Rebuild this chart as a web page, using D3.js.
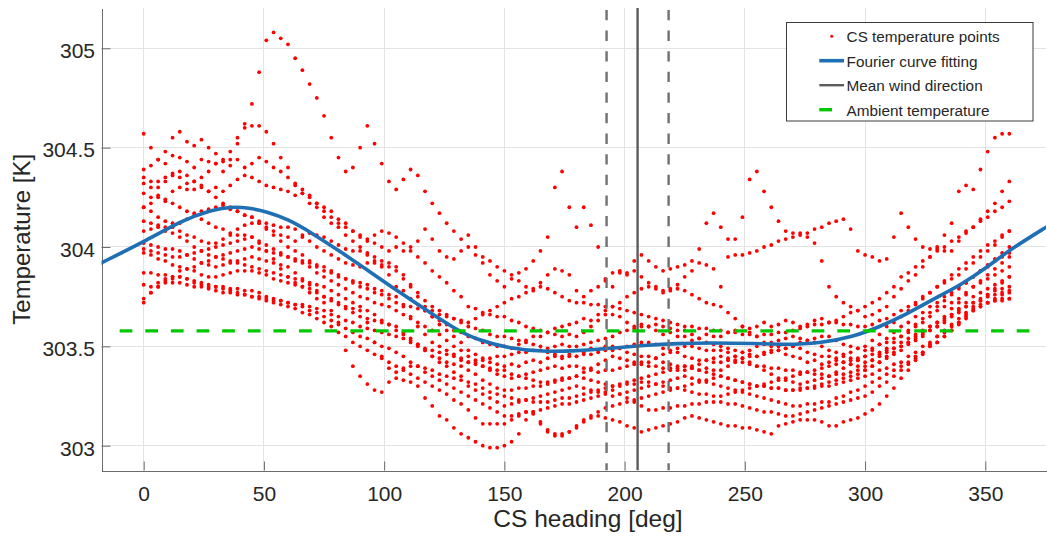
<!DOCTYPE html>
<html><head><meta charset="utf-8">
<script src="https://cdn.jsdelivr.net/npm/d3@7"></script>
<style>
html,body{margin:0;padding:0;background:#fff;}
svg{display:block;font-family:"Liberation Sans",Arial,Helvetica,sans-serif;}
</style></head><body>
<svg id="chart" width="1047" height="536"></svg>
<script>
// ---------- DATA ----------
const headings = [0,3,6,9,12,15,18,21,24,27,30,33,36,39,42,45,48,51,54,57,60,63,66,69,72,75,78,81,84,87,90,93,96,99,102,105,108,111,114,117,120,123,126,129,132,135,138,141,144,147,150,153,156,159,162,165,168,171,174,177,180,183,186,189,192,195,198,201,204,207,210,213,216,219,222,225,228,231,234,237,240,243,246,249,252,255,258,261,264,267,270,273,276,279,282,285,288,291,294,297,300,303,306,309,312,315,318,321,324,327,330,333,336,339,342,345,348,351,354,357,360];

const lap01 = [304.20,304.22,304.25,304.24,304.28,304.30,304.29,304.33,304.35,304.38,
304.42,304.43,304.44,304.52,304.62,304.72,304.88,305.04,305.08,305.05,
305.02,304.95,304.89,304.82,304.75,304.66,304.55,304.45,304.38,304.40,
304.50,304.61,304.52,304.42,304.33,304.29,304.34,304.39,304.36,304.28,
304.22,304.17,304.12,304.08,304.04,304.00,303.96,303.92,303.86,303.83,
303.80,303.84,303.87,303.89,303.93,303.98,304.05,304.30,304.38,304.20,
304.10,304.20,304.11,304.00,303.83,303.80,303.87,303.86,303.88,303.85,
303.82,303.80,303.78,303.79,303.81,303.85,303.88,303.92,303.91,303.89,
303.80,303.95,304.04,304.15,304.34,304.38,304.28,304.20,304.13,304.08,
304.07,304.07,304.05,304.02,303.93,303.80,303.75,303.72,303.70,303.68,
303.65,303.66,303.68,303.70,303.75,303.79,303.83,303.86,303.90,303.95,
304.00,304.06,304.12,304.28,304.31,304.29,304.39,304.48,304.55,304.57,
304.57];
const lap02 = [304.57,304.50,304.44,304.48,304.55,304.58,304.53,304.51,304.54,304.50,
304.47,304.44,304.48,304.55,304.60,304.61,304.61,304.58,304.52,304.45,
304.40,304.32,304.27,304.22,304.20,304.18,304.15,304.12,304.10,304.08,
304.06,304.04,304.02,304.00,303.98,304.00,303.98,304.00,304.03,304.09,
304.04,303.98,303.95,303.94,303.98,304.06,304.00,303.95,303.93,303.90,
303.88,303.86,303.83,303.80,303.79,303.82,303.86,303.89,303.88,303.86,
303.78,303.75,303.78,303.80,303.84,303.87,303.88,303.87,303.93,303.96,
303.93,303.90,303.88,303.89,303.90,303.91,303.93,303.99,304.12,304.17,
304.10,304.04,303.96,303.96,303.97,303.98,304.00,304.01,304.03,304.04,
304.05,304.06,304.07,304.09,304.10,304.12,304.13,304.14,304.09,303.98,
303.96,303.95,303.93,303.94,304.05,304.17,304.10,304.04,304.00,303.99,
303.99,303.98,303.98,304.03,304.07,304.10,304.14,304.18,304.22,304.28,
304.33];
const lap03 = [304.39,304.41,304.44,304.42,304.46,304.45,304.43,304.40,304.44,304.43,
304.42,304.38,304.41,304.44,304.40,304.42,304.45,304.43,304.40,304.38,
304.35,304.31,304.29,304.26,304.22,304.15,304.12,304.10,304.06,304.03,
304.00,303.97,303.92,303.90,303.86,303.80,303.78,303.74,303.71,303.68,
303.65,303.63,303.61,303.58,303.57,303.55,303.54,303.52,303.51,303.50,
303.50,303.49,303.51,303.53,303.55,303.55,303.57,303.59,303.60,303.61,
303.62,303.64,303.63,303.66,303.68,303.66,303.65,303.62,303.60,303.61,
303.60,303.58,303.56,303.57,303.55,303.55,303.53,303.54,303.56,303.55,
303.55,303.57,303.58,303.60,303.59,303.60,303.62,303.60,303.61,303.63,
303.62,303.60,303.61,303.63,303.64,303.62,303.63,303.65,303.67,303.68,
303.70,303.72,303.74,303.77,303.80,303.85,303.87,303.90,303.93,303.95,
303.98,304.00,304.03,304.05,304.08,304.10,304.13,304.15,304.18,304.20,
304.23];
const lap04 = [304.35,304.33,304.30,304.33,304.36,304.35,304.32,304.29,304.31,304.28,
304.30,304.28,304.31,304.34,304.36,304.35,304.33,304.31,304.30,304.29,
304.28,304.26,304.27,304.25,304.22,304.20,304.18,304.14,304.12,304.08,
304.05,304.03,304.06,304.08,304.07,304.05,304.02,303.98,303.95,303.92,
303.88,303.85,303.82,303.78,303.75,303.70,303.69,303.67,303.66,303.65,
303.65,303.63,303.62,303.60,303.59,303.58,303.57,303.56,303.55,303.56,
303.55,303.57,303.60,303.63,303.66,303.70,303.72,303.75,303.77,303.79,
303.80,303.79,303.77,303.78,303.79,303.78,303.76,303.74,303.72,303.71,
303.70,303.67,303.64,303.60,303.57,303.55,303.52,303.50,303.48,303.46,
303.45,303.44,303.42,303.43,303.41,303.42,303.44,303.46,303.47,303.49,
303.50,303.53,303.56,303.60,303.62,303.65,303.68,303.71,303.74,303.77,
303.80,303.82,303.84,303.86,303.89,303.92,303.95,303.98,304.01,304.05,
304.08];
const lap05 = [304.32,304.30,304.33,304.35,304.37,304.38,304.36,304.33,304.30,304.28,
304.25,304.22,304.20,304.18,304.16,304.15,304.12,304.10,304.08,304.06,
304.05,304.03,304.05,304.07,304.06,304.05,304.03,304.01,303.99,303.98,
303.98,303.96,303.95,303.93,303.92,303.90,303.86,303.81,303.75,303.70,
303.65,303.61,303.58,303.55,303.52,303.48,303.46,303.44,303.42,303.41,
303.40,303.41,303.40,303.42,303.43,303.42,303.44,303.45,303.44,303.46,
303.45,303.47,303.49,303.48,303.50,303.50,303.49,303.47,303.46,303.45,
303.45,303.44,303.42,303.41,303.40,303.40,303.39,303.38,303.39,303.38,
303.38,303.40,303.42,303.44,303.45,303.45,303.47,303.48,303.50,303.49,
303.50,303.49,303.47,303.46,303.45,303.45,303.43,303.42,303.41,303.40,
303.40,303.43,303.46,303.49,303.52,303.55,303.58,303.61,303.64,303.67,
303.70,303.73,303.76,303.79,303.82,303.85,303.88,303.91,303.94,303.97,
304.00];
const lap06 = [304.27,304.25,304.26,304.23,304.22,304.20,304.18,304.17,304.14,304.12,
304.10,304.09,304.07,304.06,304.06,304.05,304.03,304.01,303.99,303.97,
303.95,303.93,303.92,303.90,303.87,303.85,303.83,303.81,303.79,303.77,
303.75,303.74,303.72,303.71,303.70,303.68,303.66,303.64,303.62,303.60,
303.58,303.56,303.53,303.50,303.48,303.45,303.42,303.40,303.38,303.36,
303.35,303.34,303.35,303.36,303.37,303.38,303.39,303.40,303.39,303.40,
303.40,303.39,303.38,303.37,303.38,303.38,303.39,303.40,303.41,303.42,
303.42,303.44,303.46,303.47,303.49,303.50,303.50,303.49,303.48,303.48,
303.48,303.47,303.45,303.44,303.42,303.40,303.38,303.36,303.34,303.33,
303.32,303.31,303.32,303.33,303.34,303.35,303.36,303.36,303.37,303.38,
303.38,303.40,303.42,303.45,303.47,303.50,303.52,303.55,303.57,303.60,
303.62,303.65,303.69,303.72,303.76,303.80,303.83,303.86,303.89,303.92,
303.95];
const lap07 = [304.20,304.18,304.15,304.13,304.10,304.08,304.06,304.05,304.03,304.02,
304.02,304.04,304.06,304.09,304.11,304.12,304.13,304.12,304.11,304.10,
304.10,304.09,304.06,304.03,304.00,303.98,303.96,303.94,303.92,303.91,
303.90,303.92,303.93,303.91,303.90,303.88,303.84,303.80,303.77,303.73,
303.70,303.68,303.66,303.64,303.62,303.60,303.59,303.58,303.56,303.55,
303.55,303.54,303.53,303.52,303.51,303.50,303.49,303.50,303.51,303.50,
303.50,303.51,303.52,303.53,303.54,303.55,303.57,303.58,303.59,303.60,
303.60,303.61,303.60,303.59,303.58,303.58,303.56,303.54,303.52,303.51,
303.50,303.49,303.48,303.47,303.46,303.45,303.46,303.47,303.48,303.49,
303.50,303.52,303.53,303.54,303.55,303.55,303.53,303.51,303.50,303.49,
303.48,303.49,303.51,303.52,303.54,303.55,303.57,303.60,303.62,303.65,
303.68,303.70,303.72,303.74,303.77,303.80,303.82,303.84,303.86,303.88,
303.90];
const lap08 = [304.13,304.12,304.10,304.08,304.07,304.05,304.03,304.00,303.98,303.96,
303.95,303.94,303.93,303.92,303.91,303.90,303.89,303.88,303.87,303.86,
303.85,303.84,303.83,303.82,303.81,303.80,303.78,303.76,303.74,303.72,
303.70,303.68,303.66,303.63,303.61,303.58,303.56,303.53,303.50,303.48,
303.45,303.44,303.42,303.41,303.40,303.38,303.36,303.33,303.31,303.29,
303.28,303.28,303.29,303.29,303.30,303.30,303.31,303.32,303.33,303.34,
303.35,303.34,303.33,303.32,303.31,303.30,303.31,303.32,303.33,303.34,
303.35,303.36,303.37,303.38,303.39,303.40,303.39,303.38,303.37,303.36,
303.35,303.34,303.33,303.32,303.31,303.30,303.31,303.32,303.33,303.34,
303.35,303.36,303.37,303.38,303.39,303.40,303.41,303.42,303.43,303.44,
303.45,303.46,303.47,303.48,303.49,303.50,303.52,303.54,303.56,303.58,
303.60,303.63,303.66,303.69,303.72,303.75,303.77,303.79,303.81,303.83,
303.85];
const lap09 = [304.08,304.09,304.11,304.10,304.12,304.12,304.14,304.16,304.18,304.19,
304.20,304.21,304.19,304.18,304.16,304.15,304.12,304.09,304.06,304.03,
304.00,303.98,303.96,303.93,303.90,303.88,303.87,303.85,303.84,303.83,
303.82,303.81,303.79,303.78,303.76,303.75,303.70,303.65,303.60,303.56,
303.52,303.50,303.48,303.46,303.44,303.42,303.43,303.43,303.44,303.45,
303.45,303.46,303.47,303.47,303.48,303.48,303.47,303.46,303.45,303.45,
303.45,303.46,303.46,303.47,303.48,303.48,303.49,303.50,303.51,303.52,
303.52,303.51,303.49,303.48,303.47,303.45,303.44,303.43,303.43,303.42,
303.42,303.43,303.45,303.47,303.48,303.50,303.51,303.52,303.53,303.54,
303.55,303.54,303.53,303.52,303.50,303.48,303.47,303.45,303.44,303.43,
303.42,303.43,303.45,303.47,303.49,303.52,303.54,303.56,303.58,303.60,
303.62,303.64,303.66,303.68,303.70,303.72,303.74,303.76,303.78,303.79,
303.80];
const lap10 = [304.02,304.01,304.00,303.99,303.99,303.98,303.96,303.94,303.92,303.91,
303.90,303.91,303.92,303.93,303.94,303.95,303.94,303.93,303.92,303.91,
303.90,303.87,303.84,303.81,303.78,303.75,303.73,303.71,303.69,303.67,
303.65,303.64,303.63,303.62,303.61,303.60,303.57,303.54,303.51,303.48,
303.45,303.42,303.40,303.37,303.35,303.32,303.31,303.29,303.27,303.26,
303.25,303.24,303.23,303.23,303.22,303.22,303.22,303.23,303.24,303.24,
303.25,303.26,303.27,303.28,303.29,303.30,303.30,303.31,303.31,303.32,
303.32,303.31,303.30,303.29,303.29,303.28,303.27,303.26,303.26,303.25,
303.25,303.26,303.27,303.28,303.29,303.30,303.30,303.29,303.29,303.28,
303.28,303.28,303.29,303.29,303.30,303.30,303.31,303.32,303.33,303.34,
303.35,303.36,303.38,303.39,303.41,303.42,303.45,303.47,303.50,303.52,
303.55,303.57,303.60,303.62,303.65,303.68,303.70,303.72,303.74,303.76,
303.77];
const lap11 = [303.99,303.98,303.97,303.96,303.95,303.95,303.96,303.97,303.98,303.99,
304.00,304.01,304.02,304.03,304.04,304.05,304.02,303.98,303.94,303.89,
303.85,303.82,303.80,303.77,303.74,303.72,303.68,303.62,303.48,303.40,
303.35,303.31,303.28,303.27,303.32,303.37,303.39,303.40,303.40,303.39,
303.38,303.36,303.35,303.34,303.33,303.30,303.28,303.26,303.24,303.22,
303.20,303.21,303.22,303.23,303.24,303.25,303.26,303.27,303.28,303.29,
303.30,303.29,303.28,303.27,303.26,303.25,303.26,303.27,303.28,303.29,
303.30,303.31,303.32,303.33,303.34,303.35,303.34,303.33,303.32,303.31,
303.30,303.29,303.28,303.27,303.26,303.25,303.24,303.23,303.22,303.21,
303.20,303.20,303.21,303.21,303.22,303.22,303.24,303.25,303.27,303.28,
303.30,303.32,303.34,303.36,303.38,303.40,303.42,303.45,303.47,303.50,
303.52,303.55,303.58,303.61,303.64,303.68,303.70,303.72,303.73,303.74,
303.74];
const lap12 = [303.97,303.96,303.94,303.93,303.91,303.90,303.89,303.88,303.86,303.85,
303.85,303.86,303.87,303.88,303.88,303.88,303.87,303.86,303.84,303.83,
303.82,303.81,303.80,303.79,303.77,303.75,303.74,303.72,303.70,303.69,
303.68,303.62,303.52,303.45,303.39,303.34,303.33,303.32,303.30,303.24,
303.20,303.15,303.13,303.09,303.06,303.04,303.02,303.00,302.99,302.99,
303.00,303.02,303.06,303.13,303.16,303.11,303.07,303.06,303.06,303.07,
303.09,303.13,303.15,303.17,303.19,303.20,303.21,303.22,303.23,303.24,
303.25,303.26,303.27,303.28,303.29,303.30,303.31,303.32,303.33,303.34,
303.35,303.34,303.33,303.32,303.31,303.30,303.30,303.29,303.29,303.28,
303.28,303.29,303.29,303.30,303.31,303.32,303.33,303.34,303.35,303.36,
303.38,303.40,303.42,303.44,303.46,303.48,303.51,303.53,303.55,303.58,
303.60,303.62,303.65,303.67,303.70,303.72,303.73,303.75,303.76,303.77,
303.78];
const lap13 = [303.87,303.87,303.86,303.86,303.85,303.85,303.84,303.82,303.80,303.79,
303.78,303.77,303.77,303.76,303.76,303.75,303.74,303.73,303.72,303.71,
303.70,303.69,303.67,303.66,303.64,303.62,303.60,303.57,303.55,303.52,
303.50,303.48,303.46,303.44,303.42,303.40,303.38,303.36,303.34,303.32,
303.30,303.28,303.26,303.23,303.21,303.18,303.14,303.11,303.11,303.11,
303.11,303.13,303.15,303.17,303.17,303.12,303.08,303.05,303.05,303.07,
303.10,303.12,303.14,303.15,303.14,303.13,303.12,303.10,303.09,303.07,
303.08,303.09,303.10,303.11,303.12,303.14,303.15,303.14,303.13,303.12,
303.11,303.10,303.10,303.09,303.09,303.08,303.07,303.06,303.10,303.11,
303.12,303.13,303.13,303.13,303.12,303.10,303.10,303.12,303.13,303.14,
303.16,303.18,303.21,303.25,303.29,303.34,303.38,303.43,303.46,303.50,
303.52,303.55,303.58,303.62,303.66,303.69,303.71,303.72,303.73,303.73,
303.74];
const lap14 = [303.81,303.80,303.82,303.83,303.82,303.82,303.81,303.80,303.81,303.80,
303.80,303.80,303.79,303.79,303.78,303.78,303.77,303.75,303.74,303.73,
303.72,303.71,303.70,303.68,303.67,303.65,303.63,303.61,303.59,303.57,
303.55,303.54,303.52,303.50,303.49,303.47,303.45,303.42,303.40,303.37,
303.35,303.33,303.31,303.29,303.27,303.25,303.23,303.21,303.19,303.17,
303.15,303.15,303.16,303.17,303.17,303.18,303.19,303.20,303.21,303.21,
303.22,303.23,303.24,303.25,303.27,303.28,303.26,303.24,303.22,303.20,
303.18,303.18,303.19,303.19,303.20,303.20,303.21,303.21,303.22,303.22,
303.22,303.21,303.21,303.20,303.19,303.18,303.17,303.17,303.16,303.15,
303.15,303.16,303.17,303.18,303.19,303.20,303.21,303.22,303.23,303.24,
303.25,303.27,303.30,303.32,303.35,303.38,303.41,303.44,303.47,303.51,
303.55,303.58,303.61,303.64,303.67,303.70,303.73,303.76,303.79,303.82,
303.85];
const lap15 = [303.74,303.77,303.80,303.82,303.84,303.85,303.84,303.83,303.82,303.81,
303.80,303.79,303.78,303.77,303.76,303.75,303.75,303.74,303.73,303.73,
303.72,303.71,303.71,303.70,303.69,303.68,303.66,303.65,303.63,303.62,
303.60,303.59,303.58,303.57,303.56,303.55,303.54,303.52,303.51,303.49,
303.48,303.47,303.46,303.45,303.43,303.42,303.41,303.40,303.39,303.38,
303.38,303.36,303.35,303.34,303.33,303.32,303.32,303.33,303.34,303.34,
303.35,303.37,303.39,303.41,303.43,303.45,303.44,303.43,303.42,303.41,
303.40,303.40,303.39,303.39,303.38,303.38,303.40,303.41,303.43,303.44,
303.45,303.44,303.43,303.42,303.41,303.40,303.40,303.39,303.39,303.38,
303.38,303.37,303.37,303.36,303.36,303.35,303.37,303.39,303.41,303.43,
303.45,303.48,303.51,303.54,303.57,303.60,303.62,303.65,303.67,303.70,
303.72,303.75,303.77,303.80,303.82,303.85,303.88,303.90,303.93,303.95,
303.97];
const lap16 = [303.72,303.77,303.80,303.84,303.85,303.88,303.89,303.90,303.92,303.93,
303.95,303.96,303.97,303.98,303.99,304.00,303.99,303.98,303.97,303.96,
303.95,303.94,303.93,303.92,303.91,303.90,303.88,303.86,303.84,303.82,
303.80,303.79,303.77,303.76,303.74,303.72,303.71,303.70,303.69,303.68,
303.68,303.66,303.65,303.64,303.63,303.62,303.64,303.66,303.68,303.70,
303.72,303.74,303.75,303.77,303.78,303.80,303.79,303.77,303.75,303.73,
303.72,303.72,303.71,303.71,303.70,303.70,303.69,303.68,303.67,303.66,
303.65,303.64,303.63,303.62,303.61,303.60,303.60,303.59,303.59,303.58,
303.58,303.57,303.57,303.56,303.56,303.55,303.56,303.56,303.57,303.57,
303.58,303.59,303.60,303.61,303.61,303.62,303.62,303.61,303.61,303.60,
303.60,303.61,303.63,303.64,303.66,303.68,303.70,303.72,303.75,303.77,
303.80,303.83,303.86,303.89,303.92,303.95,303.98,304.01,304.03,304.06,
304.08];

const fitHeading = [-18,0,16,28,36,44,51,60,70,82,93,104,111,129,138,152,166,180,194,208,222,236,254,267,281,295,306,317,328,340,351,360,376];
const fitTemp = [303.918,304.025,304.135,304.186,304.203,304.197,304.178,304.14,304.07,303.975,303.884,303.792,303.735,303.59,303.535,303.49,303.473,303.477,303.49,303.505,303.515,303.518,303.515,303.508,303.515,303.548,303.598,303.66,303.735,303.81,303.9,303.985,304.105];

const ambientTemp = 303.578;
const ambientSpan = [-10, 370];
const windMean = 205.4;
const windBounds = [192.5, 218.3];

const xTicks = [0,50,100,150,200,250,300,350];
const yTicks = [303,303.5,304,304.5,305];
const yTickLabels = ["303","303.5","304","304.5","305"];
const legendLabels = ["CS temperature points","Fourier curve fitting","Mean wind direction","Ambient temperature"];
const xTitle = "CS heading [deg]";
const yTitle = "Temperature [K]";

// ---------- DRAW ----------
const laps = [lap01,lap02,lap03,lap04,lap05,lap06,lap07,lap08,lap09,lap10,lap11,lap12,lap13,lap14,lap15,lap16];
const points = [];
laps.forEach(lap => lap.forEach((t,i) => points.push([headings[i], t])));

const L = 101.5, R = 1046, T = 8, B = 470.5;
const x = d3.scaleLinear().domain([-17.55, 375.25]).range([L, R]);
const y = d3.scaleLinear().domain([302.8752, 305.2028]).range([B, T]);

const svg = d3.select("#chart");
svg.append("rect").attr("width",1047).attr("height",536).attr("fill","#fff");

svg.append("defs").append("clipPath").attr("id","plotclip")
  .append("rect").attr("x",L).attr("y",T).attr("width",R-L).attr("height",B-T);

// grid
const grid = svg.append("g").attr("stroke","#e3e3e3").attr("stroke-width",1).attr("shape-rendering","crispEdges");
grid.selectAll(".gx").data(xTicks).join("line")
  .attr("x1",d=>x(d)).attr("x2",d=>x(d)).attr("y1",T).attr("y2",B);
grid.selectAll(".gy").data(yTicks).join("line")
  .attr("x1",L).attr("x2",R).attr("y1",d=>y(d)).attr("y2",d=>y(d));

// axes
const axisColor = "#6b6b6b";
const xAxis = d3.axisBottom(x).tickValues(xTicks).tickFormat(d3.format("d"))
  .tickSizeInner(-9).tickSizeOuter(0).tickPadding(15.2);
const gx = svg.append("g").attr("transform",`translate(0,${B})`).call(xAxis);
gx.select(".domain").attr("stroke",axisColor).attr("shape-rendering","crispEdges");
gx.selectAll(".tick line").attr("stroke",axisColor);
gx.selectAll(".tick text").attr("fill","#262626").attr("font-size",21)
  .attr("font-family",'"Liberation Sans",Arial,sans-serif');

const yAxis = d3.axisLeft(y).tickValues(yTicks).tickFormat((d,i)=>yTickLabels[i])
  .tickSizeInner(-9).tickSizeOuter(0).tickPadding(6.5);
const gy = svg.append("g").attr("transform",`translate(${L},0)`).call(yAxis);
gy.select(".domain").attr("stroke",axisColor).attr("shape-rendering","crispEdges");
gy.selectAll(".tick line").attr("stroke",axisColor);
gy.selectAll(".tick text").attr("fill","#262626").attr("font-size",21).attr("dy","9.3")
  .attr("font-family",'"Liberation Sans",Arial,sans-serif');

const plot = svg.append("g").attr("clip-path","url(#plotclip)");

// scatter
plot.append("g").attr("fill","#ff0000").selectAll("circle").data(points).join("circle")
  .attr("cx",d=>x(d[0])).attr("cy",d=>y(d[1])).attr("r",1.9);

// Fourier fit
const fitPts = fitHeading.map((h,i)=>[h, fitTemp[i]]);
plot.append("path").datum(fitPts)
  .attr("d", d3.line().x(d=>x(d[0])).y(d=>y(d[1])).curve(d3.curveBasis))
  .attr("fill","none").attr("stroke","#1f6fb4").attr("stroke-width",3.6);

// wind direction
plot.append("line").attr("x1",x(windMean)).attr("x2",x(windMean)).attr("y1",T).attr("y2",B)
  .attr("stroke","#5c5c5c").attr("stroke-width",2.4);
plot.selectAll(".wb").data(windBounds).join("line")
  .attr("x1",d=>x(d)).attr("x2",d=>x(d)).attr("y1",T).attr("y2",B)
  .attr("stroke","#707070").attr("stroke-width",2.4)
  .attr("stroke-dasharray","10.3,10.3").attr("stroke-dashoffset",18.6);

// ambient
plot.append("line").attr("x1",x(ambientSpan[0])).attr("x2",x(ambientSpan[1]))
  .attr("y1",y(ambientTemp)).attr("y2",y(ambientTemp))
  .attr("stroke","rgb(0,200,0)").attr("stroke-width",3.4).attr("stroke-dasharray","12.7,12.93");

// labels
svg.append("text").attr("x",588).attr("y",526.5).attr("text-anchor","middle")
  .attr("font-size",24.5).attr("fill","#262626").text(xTitle);
svg.append("text").attr("transform","translate(30,239.3) rotate(-90)").attr("text-anchor","middle")
  .attr("font-size",24).attr("fill","#262626").text(yTitle);

// legend
const lg = svg.append("g");
lg.append("rect").attr("x",786.5).attr("y",22.5).attr("width",246.5).attr("height",98.5)
  .attr("fill","#fff").attr("stroke","#3a3a3a").attr("stroke-width",1);
const rowY = [36.2, 60.7, 85.2, 109.7];
lg.append("circle").attr("cx",831.7).attr("cy",rowY[0]).attr("r",1.5).attr("fill","#ff0000");
lg.append("line").attr("x1",819.3).attr("x2",844).attr("y1",rowY[1]).attr("y2",rowY[1])
  .attr("stroke","#1f6fb4").attr("stroke-width",3.6);
lg.append("line").attr("x1",819.3).attr("x2",844).attr("y1",rowY[2]).attr("y2",rowY[2])
  .attr("stroke","#5c5c5c").attr("stroke-width",2.4);
lg.append("line").attr("x1",819.3).attr("x2",844).attr("y1",rowY[3]).attr("y2",rowY[3])
  .attr("stroke","rgb(0,200,0)").attr("stroke-width",3.4).attr("stroke-dasharray","12.7,12.93");
lg.selectAll(".lt").data(legendLabels).join("text")
  .attr("x",846.6).attr("y",(d,i)=>rowY[i]+5.8).attr("font-size",15.3).attr("fill","#262626").text(d=>d);
</script>
</body></html>
